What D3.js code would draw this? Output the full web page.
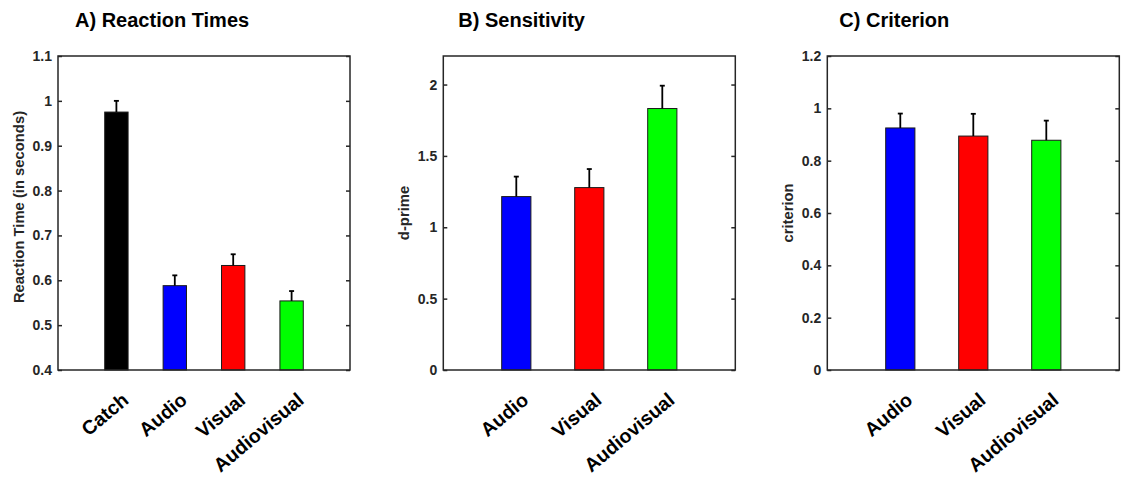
<!DOCTYPE html>
<html>
<head>
<meta charset="utf-8">
<script src="https://cdn.jsdelivr.net/npm/d3@7"></script>
<style>
    body { margin: 0; background: #fff; }
    svg text { font-family: "Liberation Sans", Arial, Helvetica, sans-serif; font-weight: bold; }
</style>
</head>
<body>
<div id="main"></div>
<script>
// Panel A - reaction times
const rtCategories = ["Catch", "Audio", "Visual", "Audiovisual"];
const rtMeans = [0.975, 0.588, 0.633, 0.554];
const rtErrors = [0.025, 0.023, 0.025, 0.022];
const rtColors = ["#000000", "#0000ff", "#ff0000", "#00ff00"];
const rtTicks = [0.4, 0.5, 0.6, 0.7, 0.8, 0.9, 1, 1.1];

// Panel B - sensitivity (d-prime)
const dpCategories = ["Audio", "Visual", "Audiovisual"];
const dpMeans = [1.215, 1.278, 1.832];
const dpErrors = [0.14, 0.13, 0.16];
const dpColors = ["#0000ff", "#ff0000", "#00ff00"];
const dpTicks = [0, 0.5, 1, 1.5, 2];

// Panel C - criterion
const crCategories = ["Audio", "Visual", "Audiovisual"];
const crMeans = [0.925, 0.894, 0.878];
const crErrors = [0.055, 0.085, 0.075];
const crColors = ["#0000ff", "#ff0000", "#00ff00"];
const crTicks = [0, 0.2, 0.4, 0.6, 0.8, 1, 1.2];

const width = 1121;
const height = 477;
const plotTop = 56, plotBottom = 370, panelWidth = 292;
const axisColor = "#262626";

const svg = d3.select('#main').append('svg')
    .attr('width', width)
    .attr('height', height);

function buildPanel(opts) {
    const left = opts.left;
    const right = left + panelWidth;
    const g = svg.append('g');

    const xScale = d3.scalePoint()
        .domain(opts.categories)
        .range([left, right])
        .padding(1);
    const barWidth = xScale.step() * 0.4;

    const yScale = d3.scaleLinear()
        .domain(opts.yDomain)
        .range([plotBottom, plotTop]);

    const fmt = d3.format("~g");

    // bars
    g.selectAll('.bar')
        .data(opts.categories)
        .enter()
        .append('rect')
        .attr('class', 'bar')
        .attr('x', d => xScale(d) - barWidth / 2)
        .attr('width', barWidth)
        .attr('y', (d, i) => yScale(opts.means[i]))
        .attr('height', (d, i) => plotBottom - yScale(opts.means[i]))
        .style('fill', (d, i) => opts.colors[i])
        .style('stroke', '#1a1a1a')
        .style('stroke-width', 1);

    // upper error bars
    g.selectAll('.err')
        .data(opts.categories)
        .enter()
        .append('line')
        .attr('x1', d => xScale(d))
        .attr('x2', d => xScale(d))
        .attr('y1', (d, i) => yScale(opts.means[i]))
        .attr('y2', (d, i) => yScale(opts.means[i] + opts.errors[i]))
        .style('stroke', '#000')
        .style('stroke-width', 1.8);

    g.selectAll('.cap')
        .data(opts.categories)
        .enter()
        .append('line')
        .attr('x1', d => xScale(d) - 2.5)
        .attr('x2', d => xScale(d) + 2.5)
        .attr('y1', (d, i) => yScale(opts.means[i] + opts.errors[i]))
        .attr('y2', (d, i) => yScale(opts.means[i] + opts.errors[i]))
        .style('stroke', '#000')
        .style('stroke-width', 1.8);

    // axes
    const yAxis = d3.axisLeft(yScale)
        .tickValues(opts.ticks)
        .tickFormat(fmt)
        .tickSizeInner(-4)
        .tickSizeOuter(0)
        .tickPadding(6);
    const yAxisG = g.append('g')
        .attr('transform', 'translate(' + left + ',0)')
        .call(yAxis);

    const yAxisRight = d3.axisRight(yScale)
        .tickValues(opts.ticks)
        .tickFormat('')
        .tickSizeInner(-4)
        .tickSizeOuter(0);
    const yAxisRightG = g.append('g')
        .attr('transform', 'translate(' + right + ',0)')
        .call(yAxisRight);

    [yAxisG, yAxisRightG].forEach(a => {
        a.select('.domain').remove();
        a.selectAll('line').style('stroke', axisColor).style('stroke-width', 1.5);
    });
    yAxisG.selectAll('text')
        .style('fill', axisColor)
        .style('font-size', '14px');

    // box
    g.append('rect')
        .attr('x', left)
        .attr('y', plotTop)
        .attr('width', panelWidth)
        .attr('height', plotBottom - plotTop)
        .style('fill', 'none')
        .style('stroke', axisColor)
        .style('stroke-width', 1.5);

    // x tick labels, rotated
    g.selectAll('.xlabel')
        .data(opts.categories)
        .enter()
        .append('text')
        .attr('class', 'xlabel')
        .attr('text-anchor', 'end')
        .attr('transform', d => 'translate(' + (xScale(d) + 13.5) + ',402) rotate(-40)')
        .style('font-size', '19.5px')
        .style('fill', '#000')
        .text(d => d);

    // y label
    g.append('text')
        .attr('text-anchor', 'middle')
        .attr('transform', 'translate(' + (left - 34) + ',' + opts.yLabelMid + ') rotate(-90)')
        .style('font-size', '14.8px')
        .style('fill', axisColor)
        .text(opts.yLabel);

    // title
    g.append('text')
        .attr('x', left + opts.titleOffset)
        .attr('y', 26.5)
        .style('font-size', '20px')
        .style('fill', '#000')
        .text(opts.title);
}

buildPanel({
    left: 58, title: 'A) Reaction Times', titleOffset: 17,
    yLabel: 'Reaction Time (in seconds)', yLabelMid: 207,
    categories: rtCategories, means: rtMeans, errors: rtErrors, colors: rtColors,
    ticks: rtTicks, yDomain: [0.4, 1.1]
});
buildPanel({
    left: 443.3, title: 'B) Sensitivity', titleOffset: 15,
    yLabel: 'd-prime', yLabelMid: 213,
    categories: dpCategories, means: dpMeans, errors: dpErrors, colors: dpColors,
    ticks: dpTicks, yDomain: [0, 2.2]
});
buildPanel({
    left: 827.3, title: 'C) Criterion', titleOffset: 12,
    yLabel: 'criterion', yLabelMid: 213,
    categories: crCategories, means: crMeans, errors: crErrors, colors: crColors,
    ticks: crTicks, yDomain: [0, 1.2]
});
</script>
</body>
</html>
